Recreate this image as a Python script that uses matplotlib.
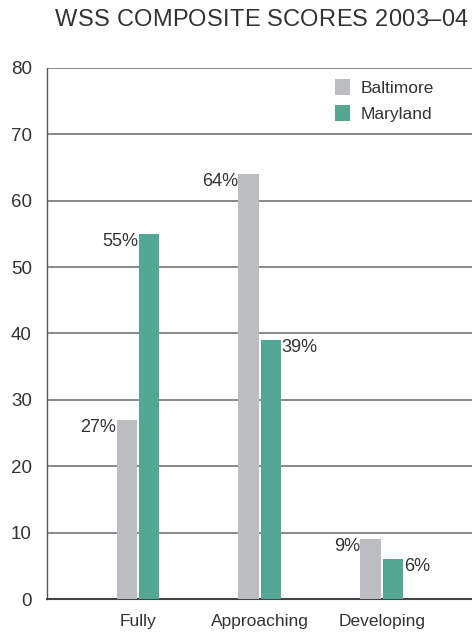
import matplotlib
matplotlib.use("Agg")
import matplotlib.pyplot as plt
import numpy as np

categories = ["Fully", "Approaching", "Developing"]
baltimore = [27, 64, 9]
maryland = [55, 39, 6]
series_names = ["Baltimore", "Maryland"]
yticks = [0, 10, 20, 30, 40, 50, 60, 70, 80]
title = "WSS COMPOSITE SCORES 2003–04"

GRAY = "#bcbdc1"
GREEN = "#52a892"
TEXT = "#333333"

plt.rcParams['font.family'] = ['Liberation Sans', 'DejaVu Sans']

fig = plt.figure(figsize=(4.72, 6.32), dpi=100)
W, H = 472, 632
ax = fig.add_axes([47 / W, (H - 599) / H, (472 - 47) / W, (599 - 68) / H])

x = np.arange(len(categories))
w = 0.165
off = 0.093
b1 = ax.bar(x - off, baltimore, w, color=GRAY, label=series_names[0], zorder=3)
b2 = ax.bar(x + off, maryland, w, color=GREEN, label=series_names[1], zorder=3)

ax.set_ylim(0, 80)
ax.set_xlim(-0.746, 2.74)
ax.set_yticks(yticks)
ax.set_yticklabels([str(t) for t in yticks], fontsize=13.5, color=TEXT)
ax.set_xticks(x)
ax.set_xticklabels(categories, fontsize=12.5, color=TEXT)
ax.tick_params(axis='y', length=0, pad=11)
ax.tick_params(axis='x', length=0, pad=11)
ax.yaxis.grid(True, color="#7f7f7f", linewidth=1.3, zorder=0)
ax.set_axisbelow(True)
ax.spines["right"].set_visible(False)
ax.spines["top"].set_visible(False)
ax.spines["left"].set_color("#555555")
ax.spines["left"].set_linewidth(1.0)
ax.spines["bottom"].set_color("#444444")
ax.spines["bottom"].set_linewidth(1.5)

# value labels
sides_b = ["left", "left", "left"]
sides_m = ["left", "right", "right"]
for rects, vals, sides in [(b1, baltimore, sides_b), (b2, maryland, sides_m)]:
    for r, v, s in zip(rects, vals, sides):
        if s == "left":
            ax.text(r.get_x() - 0.004, v - 1.1, f"{v}%", ha="right", va="center",
                    fontsize=13, color=TEXT, zorder=4)
        else:
            ax.text(r.get_x() + r.get_width() + 0.004, v - 1.1, f"{v}%", ha="left",
                    va="center", fontsize=13, color=TEXT, zorder=4)

leg = ax.legend(loc="upper left", bbox_to_anchor=((319 - 47) / 425, 1 + 5 / 531),
                frameon=False, fontsize=12.5, handlelength=0.87, handleheight=1.1,
                handletextpad=0.6, labelspacing=0.5, labelcolor=TEXT)

# title with letter tracking
fig.canvas.draw()
renderer = fig.canvas.get_renderer()
x0, x1 = 55, 468
fs = 17
widths = []
for ch in title:
    t = fig.text(0, 0, ch, fontsize=fs)
    bb = t.get_window_extent(renderer)
    widths.append(bb.width if ch != " " else None)
    t.remove()
t = fig.text(0, 0, "a a", fontsize=fs)
wa = fig.text(0, 0, "aa", fontsize=fs)
space_w = t.get_window_extent(renderer).width - wa.get_window_extent(renderer).width
t.remove(); wa.remove()
widths = [space_w if wv is None else wv for wv in widths]
total = sum(widths)
gap = ((x1 - x0) - total) / (len(title) - 1)
cx = x0
for ch, wv in zip(title, widths):
    fig.text(cx / W, 1 - 20 / H, ch, fontsize=fs, color=TEXT, ha="left", va="center")
    cx += wv + gap

fig.savefig("out.png", dpi=100)
